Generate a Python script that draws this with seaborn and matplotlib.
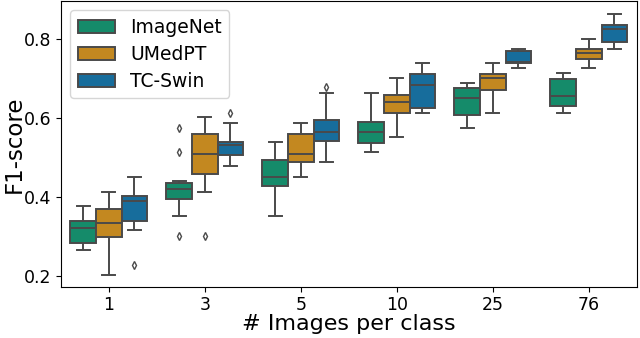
import pandas as pd
import matplotlib
matplotlib.use("Agg")
import matplotlib.pyplot as plt
import seaborn as sns

# images per class (x categories)
shots = ["1", "3", "5", "10", "25", "76"]
models = ["ImageNet", "UMedPT", "TC-Swin"]

# F1-scores per run, one list per x category
imagenet = [
    [0.265, 0.275, 0.283, 0.30, 0.320, 0.33, 0.338, 0.36, 0.376],
    [0.301, 0.352, 0.380, 0.395, 0.40, 0.41, 0.420, 0.425, 0.43, 0.435, 0.439, 0.513, 0.575],
    [0.352, 0.40, 0.427, 0.44, 0.451, 0.47, 0.494, 0.52, 0.539],
    [0.514, 0.525, 0.537, 0.55, 0.564, 0.575, 0.589, 0.62, 0.662],
    [0.575, 0.59, 0.607, 0.63, 0.651, 0.665, 0.675, 0.68, 0.689],
    [0.613, 0.62, 0.631, 0.645, 0.656, 0.68, 0.698, 0.705, 0.714],
]
umedpt = [
    [0.202, 0.25, 0.299, 0.32, 0.333, 0.35, 0.370, 0.39, 0.413],
    [0.301, 0.413, 0.458, 0.48, 0.508, 0.53, 0.560, 0.58, 0.601],
    [0.451, 0.47, 0.489, 0.50, 0.508, 0.53, 0.560, 0.575, 0.588],
    [0.552, 0.59, 0.613, 0.625, 0.639, 0.65, 0.659, 0.68, 0.700],
    [0.613, 0.64, 0.670, 0.69, 0.700, 0.705, 0.712, 0.725, 0.738],
    [0.725, 0.74, 0.750, 0.755, 0.763, 0.77, 0.775, 0.79, 0.800],
]
tcswin = [
    [0.226, 0.315, 0.339, 0.36, 0.389, 0.395, 0.401, 0.42, 0.451],
    [0.477, 0.49, 0.506, 0.52, 0.531, 0.535, 0.539, 0.586, 0.613],
    [0.489, 0.52, 0.542, 0.55, 0.564, 0.58, 0.594, 0.663, 0.677],
    [0.613, 0.62, 0.625, 0.65, 0.682, 0.70, 0.712, 0.725, 0.738],
    [0.725, 0.73, 0.738, 0.74, 0.742, 0.76, 0.770, 0.772, 0.775],
    [0.775, 0.785, 0.793, 0.81, 0.824, 0.83, 0.834, 0.85, 0.862],
]

colors = ["#029e73", "#de8f05", "#0173b2"]

rows = []
for model, runs in zip(models, [imagenet, umedpt, tcswin]):
    for shot, vals in zip(shots, runs):
        for v in vals:
            rows.append({"shots": shot, "model": model, "f1": v})
df = pd.DataFrame(rows)

fig, ax = plt.subplots(figsize=(6.4, 3.38), dpi=100)
fig.subplots_adjust(left=0.095, right=0.995, bottom=0.152, top=0.997)

sns.boxplot(data=df, x="shots", y="f1", hue="model", order=shots,
            hue_order=models, palette=colors, saturation=0.75,
            linecolor="#4a4a4a", linewidth=1.4, ax=ax,
            flierprops=dict(marker="d", markersize=4,
                            markerfacecolor="none", markeredgecolor="#4a4a4a"))

ax.set_ylim(0.172, 0.896)
ax.set_yticks([0.2, 0.4, 0.6, 0.8])
ax.set_xlabel("# Images per class", fontsize=16, labelpad=0)
ax.set_ylabel("F1-score", fontsize=16.5, labelpad=-2)
ax.tick_params(labelsize=12.5)
ax.legend(loc="upper left", fontsize=13.5, labelspacing=0.42)

plt.savefig("out.png", dpi=100)
